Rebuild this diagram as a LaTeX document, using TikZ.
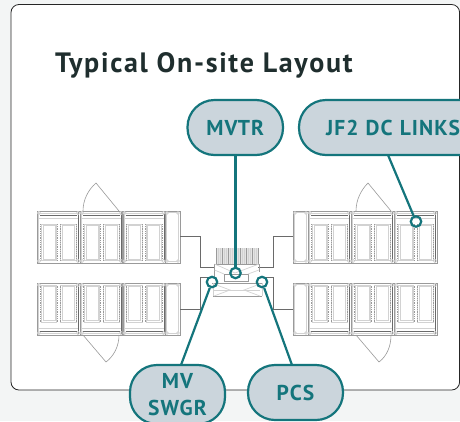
\documentclass[tikz,border=0pt]{standalone}
\usepackage{fontspec}
\setmainfont{PT Sans}
\newfontfamily\labelfont[LetterSpace=5]{PT Sans}
\newfontfamily\titlefont[LetterSpace=6]{PT Sans}
\definecolor{teal1}{HTML}{14757C}
\definecolor{pillbg}{HTML}{CBD5DC}
\definecolor{pagebg}{HTML}{F3F5F5}
\definecolor{titlec}{HTML}{1F2E2E}
\definecolor{gA}{HTML}{9A9A9A}
\definecolor{gB}{HTML}{D2D2D2}
\definecolor{gC}{HTML}{6A6A6A}
\tikzset{
  pill/.style={draw=teal1,line width=2.2pt,fill=pillbg,rounded corners=27pt,text=teal1,font=\labelfont\fontsize{21.5}{26.5}\selectfont\bfseries,align=center,inner sep=0pt},
  lead/.style={draw=teal1,line width=2.2pt},
  dot/.style={circle,draw=teal1,line width=2.2pt,minimum size=10.5pt,inner sep=0pt},
  wire/.style={draw=gC,line width=.6pt},
  thin1/.style={draw=gB,line width=.7pt},
  thick1/.style={draw=gA,line width=1pt},
  door/.style={draw=gA,line width=.6pt},
  dots/.style={draw=gA,line width=.35pt,dash pattern=on .6pt off 1.2pt},
}
\newcommand\cabunit[3]{%
  \begin{scope}[shift={(#1,#2)},yscale=#3]
    \draw[thick1] (0,0) rectangle (43,52);
    \draw[thin1] (1.5,2) -- (41.5,2);
    \draw[draw=gC,line width=.7pt] (3,4) -- (40,4);
    \draw[thin1] (1.5,7) -- (41.5,7);
    \draw[thin1] (1.5,0) -- (1.5,52);
    \draw[draw=gC,line width=.8pt] (41.7,1) -- (41.7,51);
    \draw[thin1] (4,13) rectangle (19.5,49.5);
    \draw[thin1] (6,14.5) rectangle (18,48.5);
    \draw[thin1] (23.5,13) rectangle (39,49.5);
    \draw[thin1] (25,14.5) rectangle (37,48.5);
    \draw[dots] (3.5,13) -- (3.5,49.5) (20,13) -- (20,49.5) (23,13) -- (23,49.5) (39.5,13) -- (39.5,49.5);
    \foreach \a/\b in {2/2,41/2,2/50,41/50}{\draw[thin1] (\a,\b) circle (1.6);}
  \end{scope}}
\newcommand\sideunit[3]{%
  \begin{scope}[shift={(#1,#2)},yscale=#3]
    \draw[thick1] (0,0) rectangle (15,52);
    \draw[thin1,rounded corners=2pt] (1.5,1.5) rectangle (13.5,50.5);
    \foreach \a/\b in {2/2,13/2,2/50,13/50}{\draw[thin1] (\a,\b) circle (1.4);}
  \end{scope}}
\begin{document}
\begin{tikzpicture}[x=1pt,y=-1pt]
\useasboundingbox (0,0) rectangle (460,421);
\clip (0,0) rectangle (460,421);
\fill[pagebg] (0,0) rectangle (460,421);
\draw[fill=white,draw=black!85,line width=.8pt,rounded corners=8pt] (11,4.5) rectangle (459.6,390);
\node[anchor=base west,text=titlec,font=\titlefont\fontsize{28}{30}\selectfont\bfseries,inner sep=0pt] (title) at (55,72) {Typical On-site Layout};
% left rows
\cabunit{37}{211}{1}\cabunit{80}{211}{1}\cabunit{122.5}{211}{1}\sideunit{165}{211}{1}
\cabunit{37}{335}{-1}\cabunit{80}{335}{-1}\cabunit{122.5}{335}{-1}\sideunit{165}{335}{-1}
% right rows
\sideunit{293}{211}{1}\cabunit{308}{211}{1}\cabunit{351}{211}{1}\cabunit{394}{211}{1}
\sideunit{293}{335}{-1}\cabunit{308}{335}{-1}\cabunit{351}{335}{-1}\cabunit{394}{335}{-1}
% doors
\draw[door] (83,211) .. controls (83,200) and (88,190) .. (96,183) -- (119,211);
\draw[door] (83,335) -- (106,362) .. controls (114,356) and (119,346) .. (119,335);
\draw[door] (356,211) .. controls (356,200) and (361,190) .. (368,183) -- (391,211);
\draw[door] (356,335) -- (379,362) .. controls (387,356) and (391,346) .. (391,335);
% wires
\draw[wire] (180,236) -| (200,267.5) -- (215,267.5);
\draw[wire] (180,309) -| (200,277) -- (212,277);
\draw[wire] (293,236) -| (273,267.5) -- (258,267.5);
\draw[wire] (293,309) -| (273,277) -- (262,277);
% centre equipment
\fill[gB!60] (216,248) rectangle (258,264);
\foreach \x in {216,222,...,258}{\draw[gA,line width=.5pt] (\x,248) -- (\x,264);}
\foreach \x in {218,220,224,226,230,232,236,238,242,244,248,250,254,256}{\draw[gB,line width=.4pt] (\x,248) -- (\x,264);}
\draw[door] (214.5,264) -- (259,264) -- (259,272);
\draw[door] (214.5,264) -- (214.5,278);
\draw[thin1] (214.5,264) -- (235,273) -- (259,264);
\draw[door] (224,274) -- (248,274) -- (248,281) -- (224,281) -- cycle;
\draw[thin1] (214.5,270) -- (224,274) (259,270) -- (248,274);
\draw[door] (212,283) -- (262,283);
\draw[door] (213,296) -- (262,296);
\draw[thin1] (213,290) -- (260,290);
\draw[thin1] (214,284) -- (230,290) -- (214,296) (260,284) -- (244,290) -- (260,296);
\draw[thin1] (213,283) -- (213,296) (262,283) -- (262,296);
% pills and leads
\node[pill,minimum width=95.5pt,minimum height=55pt] (mvtr) at (235.25,127.5) {MVTR};
\node[pill,minimum width=190pt,minimum height=55pt,text width=190pt,align=left] (jf) at (394,127.5) {\hspace{27pt}JF2 DC LINKS};
\node[pill,minimum width=95pt,minimum height=59pt] (mv) at (177.5,394.5) {MV\\SWGR};
\node[pill,minimum width=95pt,minimum height=55pt] (pcs) at (295.5,392.5) {PCS};
\node[dot] (d1) at (235.5,273) {};
\node[dot] (d2) at (416,221.5) {};
\node[dot] (d3) at (212,282) {};
\node[dot] (d4) at (262,282) {};
\coordinate (a1) at (235.5,155);\coordinate (a2) at (388,155);\coordinate (a3) at (181,365);\coordinate (a4) at (292,365);
\draw[lead] (a1) -- (d1);
\draw[lead] (a2) -- (d2);
\draw[lead] (a3) -- (d3);
\draw[lead] (a4) -- (d4);
\end{tikzpicture}
\end{document}
